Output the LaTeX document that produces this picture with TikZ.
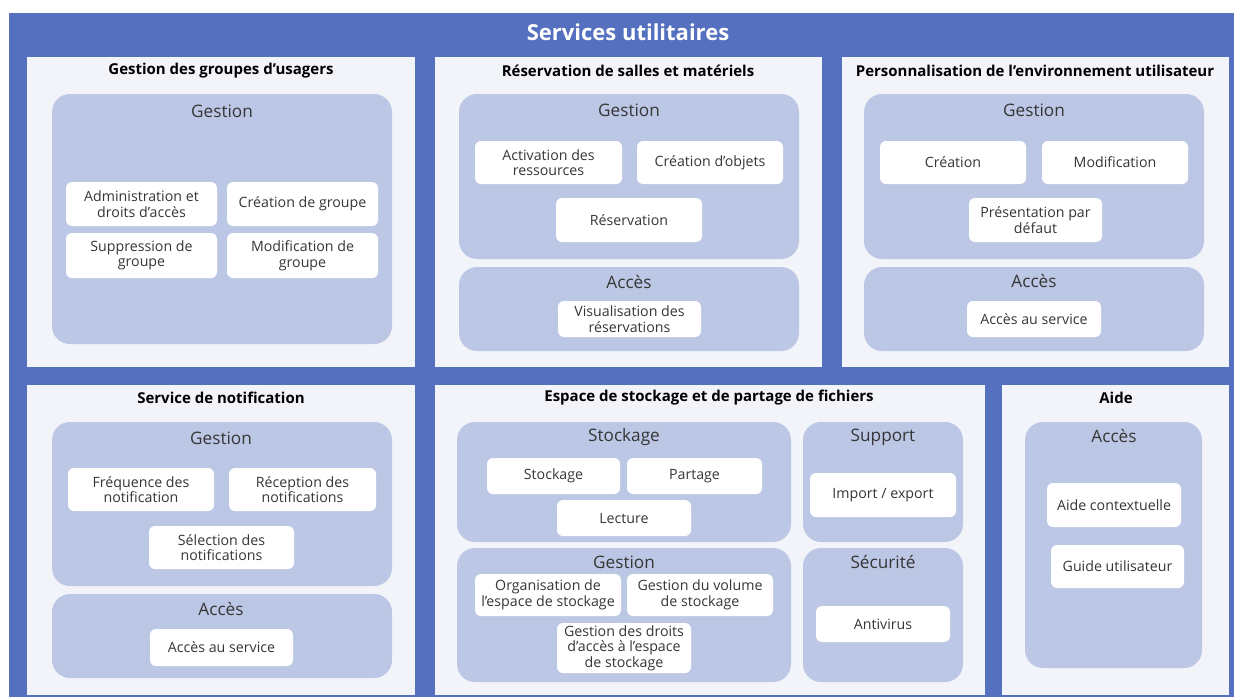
\documentclass[tikz,border=0pt]{standalone}
\usepackage{fontspec}
\setmainfont{Open Sans}
\definecolor{bandeau}{HTML}{5570BF}
\definecolor{fond}{HTML}{F2F4F9}
\definecolor{bloc}{HTML}{BCC7E5}
\definecolor{texte}{HTML}{363636}
\tikzset{
	panneau/.style = {fill = fond},
	bloc/.style = {fill = bloc, rounded corners = 18pt},
	case/.style = {fill = white, rounded corners = 6pt, align = center, inner sep = 0pt, text = texte, font = \fontsize{14.2}{15.6}\selectfont},
	titre/.style = {font = \bfseries\fontsize{15}{18}\selectfont},
	soustitre/.style = {text = texte, font = \fontsize{17.2}{20}\selectfont}
}
\begin{document}
\begin{tikzpicture}[x = 1pt, y = -1pt]
						\useasboundingbox (0, 0) rectangle (1234, 697);
						\fill [bandeau] (9, 13) rectangle (1234, 697);
						\node [text = white, font = \bfseries\fontsize{22}{26}\selectfont] (titre) at (628, 32) {Services utilitaires};

						\fill [panneau] (27, 57) rectangle (415, 367);
						\fill [panneau] (435, 57) rectangle (822, 367);
						\fill [panneau] (842, 57) rectangle (1229, 367);
						\fill [panneau] (27, 385) rectangle (415, 695);
						\fill [panneau] (435, 385) rectangle (985, 695);
						\fill [panneau] (1002, 385) rectangle (1229, 695);

						\node [titre] (t1) at (221, 71) {Gestion des groupes d’usagers};
						\node [titre] (t2) at (628, 71) {Réservation de salles et matériels};
						\node [titre] (t3) at (1035, 71) {Personnalisation de l’environnement utilisateur};
						\node [titre] (t4) at (221, 398) {Service de notification};
						\node [titre] (t5) at (709, 398) {Espace de stockage et de partage de fichiers};
						\node [titre] (t6) at (1116, 398) {Aide};

						\fill [bloc] (52, 94) rectangle (392, 344);
						\fill [bloc] (459, 94) rectangle (799, 259);
						\fill [bloc] (459, 267) rectangle (799, 351);
						\fill [bloc] (864, 94) rectangle (1204, 259);
						\fill [bloc] (864, 267) rectangle (1204, 351);
						\fill [bloc] (52, 422) rectangle (392, 586);
						\fill [bloc] (52, 594) rectangle (392, 678);
						\fill [bloc] (457, 422) rectangle (791, 542);
						\fill [bloc] (457, 548) rectangle (791, 682);
						\fill [bloc] (803, 422) rectangle (963, 542);
						\fill [bloc] (803, 548) rectangle (963, 682);
						\fill [bloc] (1025, 422) rectangle (1202, 668);

						\node [soustitre] (g1) at (222, 111) {Gestion};
						\node [soustitre] (g2) at (629, 110) {Gestion};
						\node [soustitre] (a2) at (629, 282) {Accès};
						\node [soustitre] (g3) at (1034, 110) {Gestion};
						\node [soustitre] (a3) at (1034, 281) {Accès};
						\node [soustitre] (g4) at (221, 438) {Gestion};
						\node [soustitre] (a4) at (221, 609) {Accès};
						\node [soustitre] (s5) at (624, 437) {Stockage};
						\node [soustitre] (g5) at (624, 562) {Gestion};
						\node [soustitre] (u5) at (883, 437) {Support};
						\node [soustitre] (x5) at (883, 562) {Sécurité};
						\node [soustitre] (a6) at (1114, 436) {Accès};

						\node [case, minimum width = 151, minimum height = 44] (adm) at (141.5, 204) {Administration et\\droits d’accès};
						\node [case, minimum width = 151, minimum height = 44] (crg) at (302.5, 204) {Création de groupe};
						\node [case, minimum width = 151, minimum height = 45] (sup) at (141.5, 255.5) {Suppression de\\groupe};
						\node [case, minimum width = 151, minimum height = 45] (mdg) at (302.5, 255.5) {Modification de\\groupe};

						\node [case, minimum width = 147, minimum height = 43] (act) at (548.5, 162.5) {Activation des\\ressources};
						\node [case, minimum width = 146, minimum height = 43] (cro) at (710, 162.5) {Création d’objets};
						\node [case, minimum width = 146, minimum height = 44] (res) at (629, 220) {Réservation};
						\node [case, minimum width = 143, minimum height = 36] (vis) at (629.5, 319) {Visualisation des\\réservations};

						\node [case, minimum width = 146, minimum height = 43] (cre) at (953, 162.5) {Création};
						\node [case, minimum width = 146, minimum height = 43] (mdf) at (1115, 162.5) {Modification};
						\node [case, minimum width = 133, minimum height = 44] (pre) at (1035.5, 220) {Présentation par\\défaut};
						\node [case, minimum width = 134, minimum height = 36] (acc3) at (1034, 319) {Accès au service};

						\node [case, minimum width = 146, minimum height = 43] (frq) at (141, 489.5) {Fréquence des\\notification};
						\node [case, minimum width = 147, minimum height = 43] (rec) at (302.5, 489.5) {Réception des\\notifications};
						\node [case, minimum width = 145, minimum height = 43] (sel) at (221.5, 547.5) {Sélection des\\notifications};
						\node [case, minimum width = 143, minimum height = 37] (acc4) at (221.5, 647.5) {Accès au service};

						\node [case, minimum width = 133, minimum height = 36] (sto) at (553.5, 476) {Stockage};
						\node [case, minimum width = 135, minimum height = 36] (par) at (694.5, 476) {Partage};
						\node [case, minimum width = 134, minimum height = 36] (lec) at (624, 518) {Lecture};
						\node [case, minimum width = 146, minimum height = 42] (org) at (548, 595) {Organisation de\\l’espace de stockage};
						\node [case, minimum width = 146, minimum height = 42] (vol) at (700, 595) {Gestion du volume\\de stockage};
						\node [case, minimum width = 134, minimum height = 50] (dro) at (624, 648) {Gestion des droits\\d’accès à l’espace\\de stockage};
						\node [case, minimum width = 146, minimum height = 44] (imp) at (883, 495) {Import / export};
						\node [case, minimum width = 134, minimum height = 36] (ant) at (883, 624) {Antivirus};

						\node [case, minimum width = 134, minimum height = 44] (aid) at (1114, 505) {Aide contextuelle};
						\node [case, minimum width = 133, minimum height = 43] (gui) at (1117.5, 566.5) {Guide utilisateur};
					\end{tikzpicture}
\end{document}
